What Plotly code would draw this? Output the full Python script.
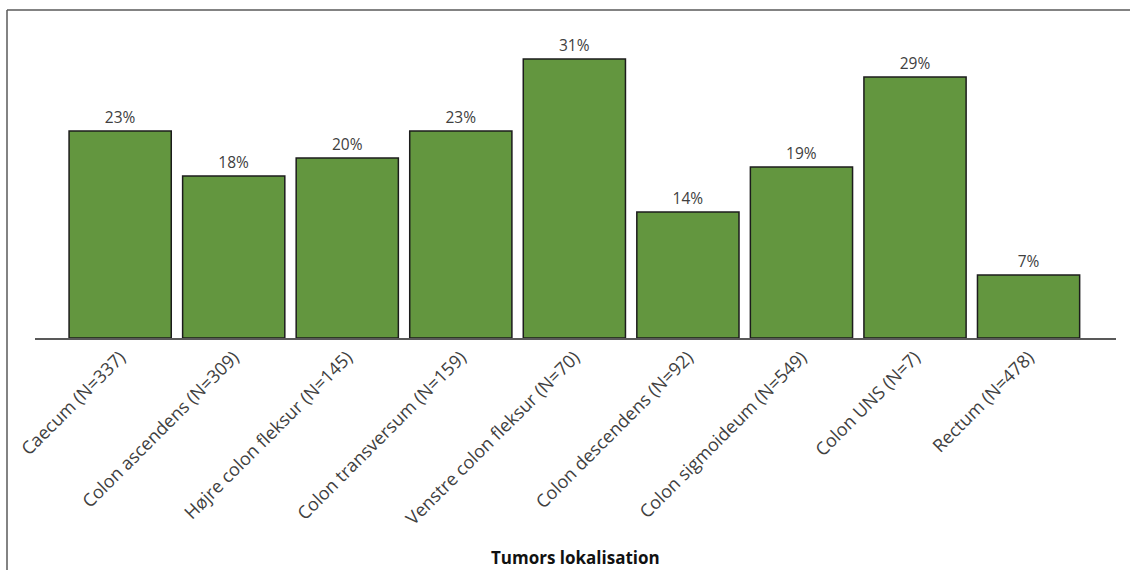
import plotly.graph_objects as go

# Tumour location categories and share per location (%)
categories = [
    "Caecum (N=337)",
    "Colon ascendens (N=309)",
    "Højre colon fleksur (N=145)",
    "Colon transversum (N=159)",
    "Venstre colon fleksur (N=70)",
    "Colon descendens (N=92)",
    "Colon sigmoideum (N=549)",
    "Colon UNS (N=7)",
    "Rectum (N=478)",
]
percentages = [23, 18, 20, 23, 31, 14, 19, 29, 7]
axis_title = "Tumors lokalisation"

W, H = 1130, 570
L, R, T, B = 35, 14, 20, 232
plot_w = W - L - R
plot_h = H - T - B


def px_x(px):
    return (px - L) / plot_w


def px_y(py):
    return (H - B - py) / plot_h


fig = go.Figure(
    go.Bar(
        x=categories,
        y=percentages,
        text=[f"{v}%" for v in percentages],
        textposition="outside",
        cliponaxis=False,
        textfont=dict(family="Open Sans", size=15.5, color="#404040"),
        marker=dict(color="#63963f", line=dict(color="#1c1c1c", width=1.5)),
        hoverinfo="skip",
    )
)

fig.update_layout(
    width=W,
    height=H,
    margin=dict(l=L, r=R, t=T, b=B, autoexpand=False),
    paper_bgcolor="white",
    plot_bgcolor="white",
    bargap=0.1,
    showlegend=False,
    font=dict(family="Open Sans", color="#404040"),
    xaxis=dict(
        range=[-0.75, 8.77],
        tickangle=-45,
        tickfont=dict(family="Open Sans", size=18, color="#404040"),
        showline=True,
        linecolor="#595959",
        linewidth=1.5,
        ticks="",
        showgrid=False,
        zeroline=False,
    ),
    yaxis=dict(
        range=[0, plot_h / 9.0],
        visible=False,
    ),
    shapes=[
        dict(type="line", xref="paper", yref="paper",
             x0=px_x(7), x1=px_x(W + 5), y0=px_y(10), y1=px_y(10),
             line=dict(color="#5a5a5a", width=1.5)),
        dict(type="line", xref="paper", yref="paper",
             x0=px_x(7), x1=px_x(7), y0=px_y(10), y1=px_y(H + 5),
             line=dict(color="#5a5a5a", width=1.5)),
    ],
    annotations=[
        dict(text=f"<b>{axis_title}</b>", xref="paper", yref="paper",
             x=0.5, y=px_y(557), xanchor="center", yanchor="middle",
             showarrow=False, font=dict(family="Open Sans", size=17, color="#111111")),
    ],
)

fig.write_html("out.html")
